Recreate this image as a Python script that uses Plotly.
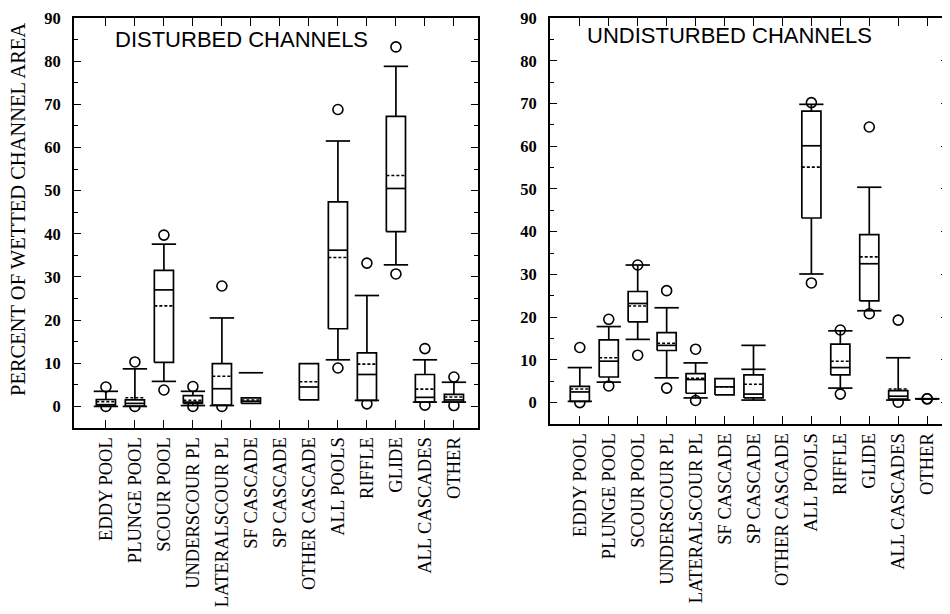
import plotly.graph_objects as go

# The page body has an 8px default margin, so the figure is laid out in
# reference pixel coordinates minus that offset.
OFF = 8
W, H = 942, 606

categories = ["EDDY POOL", "PLUNGE POOL", "SCOUR POOL", "UNDERSCOUR PL", "LATERALSCOUR PL",
              "SF CASCADE", "SP CASCADE", "OTHER CASCADE", "ALL POOLS", "RIFFLE", "GLIDE",
              "ALL CASCADES", "OTHER"]

# ---- DISTURBED CHANNELS ----
dist_q1 = [0.1, 0.1, 10.2, 0.7, 0.3, 0.7, None, 1.5, 18.0, 1.4, 40.5, 1.0, 1.0]
dist_median = [0.4, 0.7, 27.0, 1.0, 4.1, 1.2, None, 4.5, 36.2, 7.4, 50.5, 2.1, 1.5]
dist_q3 = [1.6, 1.5, 31.5, 2.5, 9.9, 2.0, None, 9.9, 47.4, 12.4, 67.2, 7.4, 2.8]
dist_mean = [1.1, 2.0, 23.3, 1.4, 7.0, 1.5, None, 5.7, 34.5, 9.8, 53.5, 4.0, 2.2]
dist_whisker_lo = [0.0, 0.0, 5.8, 0.2, 0.2, None, None, None, 10.8, 1.4, 32.8, 1.0, 1.0]
dist_whisker_hi = [3.5, 8.7, 37.6, 3.5, 20.5, 7.8, None, None, 61.5, 25.7, 78.8, 10.8, 5.6]
dist_whisker_line = [True, True, True, True, True, False, False, False, True, True, True, True, True]
dist_extra_cap = [None] * 13
dist_circle_lo = [0.0, 0.0, 3.8, 0.0, 0.0, None, None, None, 8.9, 0.6, 30.7, 0.3, 0.2]
dist_circle_hi = [4.5, 10.3, 39.7, 4.6, 27.9, None, None, None, 68.8, 33.2, 83.3, 13.4, 6.8]

# ---- UNDISTURBED CHANNELS ----
und_q1 = [0.3, 6.0, 18.9, 12.2, 2.2, 1.8, 1.1, None, 43.2, 6.5, 23.8, 0.8, 0.9]
und_median = [2.5, 9.7, 23.2, 13.4, 5.4, 3.7, 2.0, None, 60.1, 8.2, 32.5, 1.5, 0.9]
und_q3 = [3.8, 14.7, 26.0, 16.4, 6.8, 5.6, 6.5, None, 68.2, 13.7, 39.3, 2.8, 0.9]
und_mean = [3.2, 10.5, 22.6, 13.9, 5.7, 3.7, 4.3, None, 55.1, 9.7, 34.1, 3.2, 0.9]
und_whisker_lo = [0.3, 4.8, 14.8, 5.8, 1.1, None, 0.6, None, 30.1, 3.4, 21.5, 0.6, 0.9]
und_whisker_hi = [8.2, 17.8, 32.2, 22.2, 9.3, None, 13.4, None, 69.8, 16.8, 50.4, 10.5, 0.9]
und_whisker_line = [True] * 13
und_extra_cap = [None, None, None, None, None, None, 7.8, None, None, None, None, None, None]
und_circle_lo = [0.0, 3.9, 11.1, 3.4, 0.5, None, None, None, 28.0, 2.0, 20.8, 0.1, 0.9]
und_circle_hi = [12.9, 19.5, 32.2, 26.2, 12.5, None, None, None, 70.2, 17.0, 64.5, 19.3, 0.9]

panel_titles = ["DISTURBED CHANNELS", "UNDISTURBED CHANNELS"]
y_title = "PERCENT OF WETTED CHANNEL AREA"

BOX_HW = 0.33
CAP_HW = 0.42
LW = 1.7

fig = go.Figure()


def add_panel(xref, yref, q1, med, q3, mean, wlo, whi, wline, extra, clo, chi):
    n = len(categories)
    # circles (drawn first so boxes hide their overlapping half)
    cx, cy = [], []
    for i in range(n):
        for v in (clo[i], chi[i]):
            if v is not None:
                cx.append(i)
                cy.append(v)
    fig.add_trace(go.Scatter(x=cx, y=cy, mode="markers", xaxis=xref, yaxis=yref,
                             marker=dict(symbol="circle-open", size=10, color="black",
                                         line=dict(width=1.6, color="black")),
                             hoverinfo="skip", showlegend=False))
    # whiskers
    wx, wy = [], []
    for i in range(n):
        if q1[i] is None or not wline[i]:
            continue
        if whi[i] is not None and whi[i] > q3[i]:
            wx += [i, i, None]
            wy += [q3[i], whi[i], None]
        if wlo[i] is not None and wlo[i] < q1[i]:
            wx += [i, i, None]
            wy += [q1[i], wlo[i], None]
    fig.add_trace(go.Scatter(x=wx, y=wy, mode="lines", xaxis=xref, yaxis=yref,
                             line=dict(color="black", width=LW), hoverinfo="skip",
                             showlegend=False))
    # boxes
    bx, by = [], []
    for i in range(n):
        if q1[i] is None:
            continue
        bx += [i - BOX_HW, i + BOX_HW, i + BOX_HW, i - BOX_HW, i - BOX_HW, None]
        by += [q1[i], q1[i], q3[i], q3[i], q1[i], None]
    fig.add_trace(go.Scatter(x=bx, y=by, mode="lines", fill="toself", fillcolor="white",
                             xaxis=xref, yaxis=yref,
                             line=dict(color="black", width=LW), hoverinfo="skip",
                             showlegend=False))
    # medians
    mx, my = [], []
    for i in range(n):
        if med[i] is None:
            continue
        mx += [i - BOX_HW, i + BOX_HW, None]
        my += [med[i], med[i], None]
    fig.add_trace(go.Scatter(x=mx, y=my, mode="lines", xaxis=xref, yaxis=yref,
                             line=dict(color="black", width=LW), hoverinfo="skip",
                             showlegend=False))
    # means (dotted)
    ax_, ay_ = [], []
    for i in range(n):
        if mean[i] is None:
            continue
        ax_ += [i - BOX_HW, i + BOX_HW, None]
        ay_ += [mean[i], mean[i], None]
    fig.add_trace(go.Scatter(x=ax_, y=ay_, mode="lines", xaxis=xref, yaxis=yref,
                             line=dict(color="black", width=1.6, dash="3px,2px"),
                             hoverinfo="skip", showlegend=False))
    # caps
    kx, ky = [], []
    for i in range(n):
        for v in (wlo[i], whi[i], extra[i]):
            if v is not None:
                kx += [i - CAP_HW, i + CAP_HW, None]
                ky += [v, v, None]
    fig.add_trace(go.Scatter(x=kx, y=ky, mode="lines", xaxis=xref, yaxis=yref,
                             line=dict(color="black", width=LW), hoverinfo="skip",
                             showlegend=False))


add_panel("x", "y", dist_q1, dist_median, dist_q3, dist_mean, dist_whisker_lo,
          dist_whisker_hi, dist_whisker_line, dist_extra_cap, dist_circle_lo, dist_circle_hi)
add_panel("x2", "y2", und_q1, und_median, und_q3, und_mean, und_whisker_lo,
          und_whisker_hi, und_whisker_line, und_extra_cap, und_circle_lo, und_circle_hi)

serif = "Liberation Serif, Times New Roman, serif"
sans = "Liberation Sans, Arial, sans-serif"


def px_x(p):
    return (p - OFF) / W


def px_y(p):
    return 1 - (p - OFF) / H


def xaxis_cfg(domain, rng, anchor):
    return dict(domain=domain, range=rng, anchor=anchor, tickmode="array",
                tickvals=list(range(len(categories))), ticktext=categories,
                tickangle=-90, ticks="inside", ticklen=8, tickwidth=1.4,
                tickcolor="black", showline=True, linecolor="black", linewidth=1.7,
                mirror="ticks", showgrid=False, zeroline=False, automargin=False,
                ticklabeloverflow="allow",
                tickfont=dict(family=serif, size=18.5, color="black"), fixedrange=True)


def yaxis_cfg(domain, anchor):
    return dict(domain=domain, range=[-5, 90], anchor=anchor, tick0=0, dtick=10,
                ticks="inside", ticklen=7, tickwidth=1.4, tickcolor="black",
                minor=dict(dtick=5, ticks="inside", ticklen=4, tickwidth=1.2,
                           tickcolor="black", showgrid=False),
                showline=True, linecolor="black", linewidth=1.7, mirror="ticks",
                showgrid=False, zeroline=False, automargin=False, ticklabelstandoff=8,
                ticklabeloverflow="allow",
                tickfont=dict(family=serif, size=16.5, color="black", weight="bold"),
                fixedrange=True)


fig.update_layout(
    width=W, height=H,
    margin=dict(l=0, r=0, t=0, b=0),
    paper_bgcolor="white", plot_bgcolor="white",
    showlegend=False,
    xaxis=xaxis_cfg([px_x(74), px_x(478)], [-1.1, 12.83], "y"),
    yaxis=yaxis_cfg([px_y(428), px_y(18)], "x"),
    xaxis2=xaxis_cfg([px_x(550), px_x(948)], [-1.03, 12.72], "y2"),
    yaxis2=yaxis_cfg([px_y(424), px_y(18)], "x2"),
    annotations=[
        dict(text=panel_titles[0], xref="paper", yref="paper", x=px_x(113), y=px_y(39),
             xanchor="left", yanchor="middle", showarrow=False,
             font=dict(family=sans, size=22, color="black")),
        dict(text=panel_titles[1], xref="paper", yref="paper", x=px_x(585), y=px_y(35),
             xanchor="left", yanchor="middle", showarrow=False,
             font=dict(family=sans, size=22, color="black")),
        dict(text=y_title, xref="paper", yref="paper", x=px_x(18), y=px_y(210),
             xanchor="center", yanchor="middle", textangle=-90, showarrow=False,
             font=dict(family=serif, size=20.5, color="black")),
    ],
)

fig.write_html("out.html")
